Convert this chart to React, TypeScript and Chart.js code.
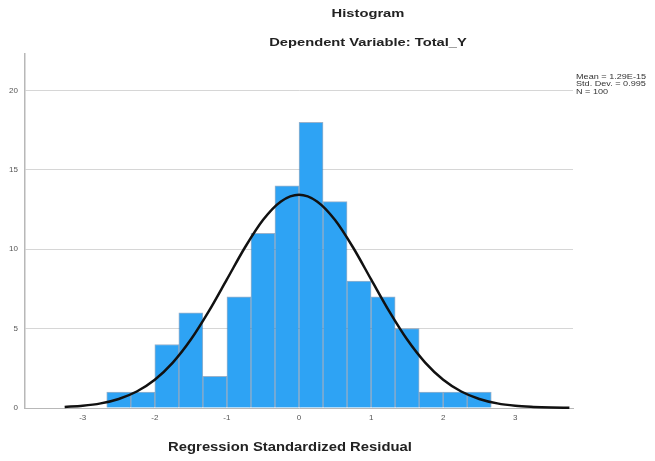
import React, { useEffect, useRef } from 'react';
import { Chart, registerables } from 'chart.js';

Chart.register(...registerables);

// ---- data ----
const binCenters = [-2.5, -2.167, -1.833, -1.5, -1.167, -0.833, -0.5, -0.167, 0.167, 0.5, 0.833, 1.167, 1.5, 1.833, 2.167, 2.5];
const frequencies = [1, 1, 4, 6, 2, 7, 11, 14, 18, 13, 8, 7, 5, 1, 1, 1];

const curveX = [-3.25, -3.0, -2.75, -2.5, -2.25, -2.0, -1.75, -1.5, -1.25, -1.0, -0.75, -0.5, -0.25, 0, 0.25, 0.5, 0.75, 1.0, 1.25, 1.5, 1.75, 2.0, 2.25, 2.5, 2.75, 3.0, 3.25, 3.5, 3.75];
const curveY = [0.07, 0.14, 0.29, 0.57, 1.04, 1.78, 2.86, 4.31, 6.1, 8.1, 10.11, 11.84, 13.01, 13.43, 13.01, 11.84, 10.11, 8.1, 6.1, 4.31, 2.86, 1.78, 1.04, 0.57, 0.29, 0.14, 0.07, 0.03, 0.01];

const xTicks = [-3, -2, -1, 0, 1, 2, 3];
const yTicks = [0, 5, 10, 15, 20];

const titleText = 'Histogram';
const subtitleText = 'Dependent Variable: Total_Y';
const xAxisTitle = 'Regression Standardized Residual';
const statsLines = ['Mean = 1.29E-15', 'Std. Dev. = 0.995', 'N = 100'];

const FONT = 'Arial, "Liberation Sans", sans-serif';

function drawStretched(ctx: CanvasRenderingContext2D, text: string, x: number, y: number, font: string, color: string, sx: number, align: CanvasTextAlign) {
  ctx.save();
  ctx.translate(x, y);
  ctx.scale(sx, 1);
  ctx.font = font;
  ctx.fillStyle = color;
  ctx.textAlign = align;
  ctx.textBaseline = 'middle';
  ctx.fillText(text, 0, 0);
  ctx.restore();
}

const textPlugin = {
  id: 'spssTexts',
  afterDraw(chart: any) {
    const ctx = chart.ctx as CanvasRenderingContext2D;
    drawStretched(ctx, titleText, 368, 14, `bold 11.5px ${FONT}`, '#222', 1.28, 'center');
    drawStretched(ctx, subtitleText, 368, 43, `bold 11.5px ${FONT}`, '#222', 1.28, 'center');
    drawStretched(ctx, xAxisTitle, 290, 447, `bold 13px ${FONT}`, '#222', 1.14, 'center');
    statsLines.forEach((line, i) => {
      drawStretched(ctx, line, 576, 77 + i * 7.5, `7px ${FONT}`, '#333', 1.3, 'left');
    });
  },
};

export default function App() {
  const canvasRef = useRef<HTMLCanvasElement | null>(null);

  useEffect(() => {
    if (!canvasRef.current) return;
    const chart = new Chart(canvasRef.current, {
      type: 'bar',
      data: {
        datasets: [
          {
            type: 'line',
            data: curveX.map((x, i) => ({ x, y: curveY[i] })),
            borderColor: '#111111',
            borderWidth: 2.5,
            pointRadius: 0,
            fill: false,
            cubicInterpolationMode: 'monotone',
            clip: false,
            order: 1,
          } as any,
          {
            type: 'bar',
            data: binCenters.map((x, i) => ({ x, y: frequencies[i] })),
            backgroundColor: '#2EA3F4',
            borderColor: 'rgba(70,115,160,0.55)',
            borderWidth: 1,
            barPercentage: 1,
            categoryPercentage: 1,
            grouped: false,
            order: 2,
          } as any,
        ],
      },
      options: {
        responsive: false,
        animation: false,
        layout: { padding: { left: 0, right: 82, top: 54, bottom: 0 } },
        plugins: {
          legend: { display: false },
          tooltip: { enabled: false },
          title: { display: false },
        },
        scales: {
          x: {
            type: 'linear',
            min: -3.8,
            max: 3.8,
            offset: false,
            grid: { display: false, offset: false, drawTicks: false },
            border: { display: true, color: '#b8b8b8', width: 1 },
            ticks: { font: { size: 8, family: FONT }, color: '#555', padding: 5, autoSkip: false, maxRotation: 0 },
            afterBuildTicks: (s: any) => { s.ticks = xTicks.map((v) => ({ value: v })); },
            afterFit: (s: any) => { s.height = 53; },
          },
          y: {
            type: 'linear',
            min: 0,
            max: 22.3,
            grid: { color: '#d6d6d6', lineWidth: 1, drawTicks: false },
            border: { display: true, color: '#b8b8b8', width: 1.5 },
            ticks: { font: { size: 8, family: FONT }, color: '#555', padding: 7 },
            afterBuildTicks: (s: any) => { s.ticks = yTicks.map((v) => ({ value: v })); },
            afterFit: (s: any) => { s.width = 25; },
          },
        },
      },
      plugins: [textPlugin],
    } as any);
    return () => chart.destroy();
  }, []);

  return (
    <div style={{ position: 'fixed', left: 0, top: 0, width: 655, height: 461, background: '#fff' }}>
      <canvas ref={canvasRef} width={655} height={461} />
    </div>
  );
}
